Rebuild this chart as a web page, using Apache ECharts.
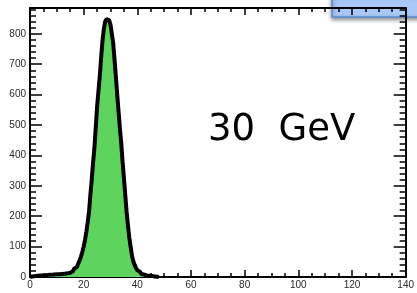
<!DOCTYPE html>
<html>
<head>
<meta charset="utf-8">
<script src="https://cdn.jsdelivr.net/npm/echarts@6/dist/echarts.min.js"></script>
<style>
  html, body { margin: 0; padding: 0; background: #fff; }
  #chart { width: 417px; height: 293px; }
</style>
</head>
<body>
<div id="chart"></div>
<script>
// bin left edges (width 0.5) and counts
const binEdges = [
    0, 0.5, 1, 1.5, 2, 2.5, 3, 3.5, 4, 4.5, 5, 5.5, 6, 6.5, 7, 7.5, 8, 8.5, 9, 9.5,
    10, 10.5, 11, 11.5, 12, 12.5, 13, 13.5, 14, 14.5, 15, 15.5, 16, 16.5, 17, 17.5, 18, 18.5, 19, 19.5,
    20, 20.5, 21, 21.5, 22, 22.5, 23, 23.5, 24, 24.5, 25, 25.5, 26, 26.5, 27, 27.5, 28, 28.5, 29, 29.5,
    30, 30.5, 31, 31.5, 32, 32.5, 33, 33.5, 34, 34.5, 35, 35.5, 36, 36.5, 37, 37.5, 38, 38.5, 39, 39.5,
    40, 40.5, 41, 41.5, 42, 42.5, 43, 43.5, 44, 44.5, 45, 45.5, 46, 46.5, 47, 47.5, 48
];
const counts = [
    1, 2, 2, 3, 3, 4, 4, 5, 5, 5, 6, 6, 6, 7, 7, 7, 8, 8, 8, 9,
    9, 9, 10, 10, 11, 11, 12, 12, 13, 14, 16, 19, 23, 28, 33, 39, 45, 55, 67, 82,
    100, 122, 148, 180, 215, 270, 320, 375, 425, 490, 560, 610, 660, 720, 775, 815, 840, 848, 845, 842,
    830, 800, 770, 715, 660, 600, 545, 490, 440, 380, 325, 270, 215, 170, 130, 100, 70, 52, 40, 30,
    22, 17, 13, 10, 8, 6, 5, 4, 4, 3, 3, 2, 2, 1, 1, 0, 0
];
const xTicks = [0, 20, 40, 60, 80, 100, 120, 140];
const yTicks = [0, 100, 200, 300, 400, 500, 600, 700, 800];
const label = '30  GeV';

const chart = echarts.init(document.getElementById('chart'));

const histData = binEdges.map((x, i) => [x, counts[i]]);

const labelFont = { fontFamily: 'Liberation Sans', fontSize: 10, color: '#2a2a2a' };

const xBase = {
    type: 'value',
    min: 0,
    max: 140,
    interval: 20,
    axisLine: { show: true, onZero: false, lineStyle: { color: '#000', width: 2 } },
    axisTick: { show: true, inside: true, length: 7, lineStyle: { color: '#000', width: 1.5 } },
    minorTick: { show: true, splitNumber: 4, length: 4, lineStyle: { color: '#000', width: 1.5 } },
    splitLine: { show: false }
};
const yBase = {
    type: 'value',
    min: 0,
    max: 885,
    interval: 100,
    axisLine: { show: true, onZero: false, lineStyle: { color: '#000', width: 2 } },
    axisTick: { show: true, inside: true, length: 12, lineStyle: { color: '#000', width: 1.5 } },
    minorTick: { show: true, splitNumber: 5, length: 6, lineStyle: { color: '#000', width: 1.5 } },
    splitLine: { show: false }
};

chart.setOption({
    animation: false,
    grid: { left: 30, right: 10, top: 8, bottom: 16 },
    xAxis: [
        Object.assign({}, xBase, {
            position: 'bottom',
            axisLabel: Object.assign({ margin: 3, formatter: v => xTicks.includes(v) ? String(v) : '' }, labelFont)
        }),
        Object.assign({}, xBase, { position: 'top', axisLabel: { show: false } })
    ],
    yAxis: [
        Object.assign({}, yBase, {
            position: 'left',
            axisLabel: Object.assign({ margin: 4, showMaxLabel: false,
                formatter: v => yTicks.includes(v) ? String(v) : '' }, labelFont)
        }),
        Object.assign({}, yBase, { position: 'right', axisLabel: { show: false } })
    ],
    series: [{
        type: 'line',
        step: 'end',
        data: histData,
        symbol: 'none',
        clip: true,
        lineStyle: { color: '#000', width: 4 },
        areaStyle: { color: '#5ed45e', opacity: 1 }
    }],
    graphic: [
        {
            type: 'text',
            left: 208,
            top: 112,
            style: { text: label, font: '37px "DejaVu Sans"', fill: '#000' }
        },
        {
            type: 'rect',
            shape: { x: 332, y: -6, width: 92, height: 23 },
            style: {
                fill: '#a9c8f7',
                stroke: '#5a8ad8',
                lineWidth: 1.5,
                shadowBlur: 4,
                shadowOffsetY: 2,
                shadowColor: 'rgba(0,0,0,0.45)'
            }
        }
    ]
});
</script>
</body>
</html>
